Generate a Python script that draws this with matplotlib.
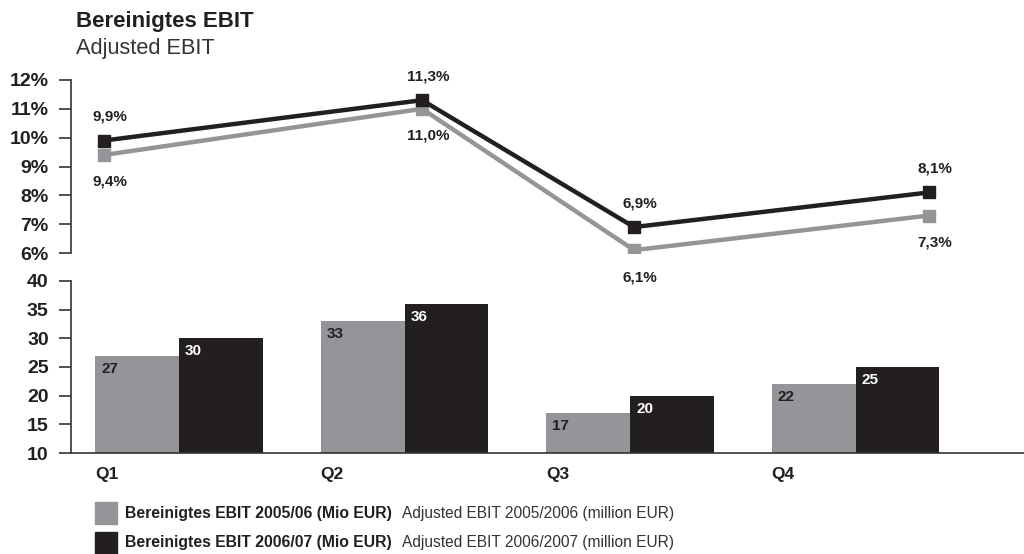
import matplotlib.pyplot as plt

plt.rcParams["font.family"] = ["Liberation Sans", "DejaVu Sans"]

# Data
QUARTERS = ["Q1", "Q2", "Q3", "Q4"]
EBIT_0506 = [27, 33, 17, 22]
EBIT_0607 = [30, 36, 20, 25]
MARGIN_0506 = [9.4, 11.0, 6.1, 7.3]
MARGIN_0607 = [9.9, 11.3, 6.9, 8.1]
MARGIN_TICKS = [6, 7, 8, 9, 10, 11, 12]
EBIT_TICKS = [10, 15, 20, 25, 30, 35, 40]

GRAY = "#939598"
BLACK = "#231f20"
TEXT = "#231f20"

# Layout: where the margin markers sit relative to the bar groups
LINE_X = [-0.333, 1.078, 2.018, 3.326]
BAR_W = 0.372
XLIM = (-0.479, 3.747)


def fmt_pct(v):
    return f"{v:.1f}".replace(".", ",") + "%"


fig = plt.figure(figsize=(10.24, 5.54), dpi=100)

# Bottom panel: EBIT bars
ax_bot = fig.add_axes([0.0693, 0.1823, 0.9307, 0.3105])
ax_bot.patch.set_visible(False)
xs = range(len(QUARTERS))
left_x = [i - BAR_W / 2 for i in xs]
right_x = [i + BAR_W / 2 for i in xs]
ax_bot.bar(left_x, EBIT_0506, width=BAR_W, color=GRAY, zorder=2)
ax_bot.bar(right_x, EBIT_0607, width=BAR_W, color=BLACK, zorder=2)
for x, v in zip(left_x, EBIT_0506):
    ax_bot.annotate(str(v), (x - BAR_W / 2, v), xytext=(6, -13),
                    textcoords="offset pixels", ha="left", va="center",
                    fontsize=11, fontweight="bold", color=TEXT)
for x, v in zip(right_x, EBIT_0607):
    ax_bot.annotate(str(v), (x - BAR_W / 2, v), xytext=(6, -13),
                    textcoords="offset pixels", ha="left", va="center",
                    fontsize=11, fontweight="bold", color="white")
ax_bot.set_xlim(*XLIM)
ax_bot.set_ylim(10, 40)
ax_bot.set_yticks(EBIT_TICKS)
ax_bot.set_xticks([i - BAR_W for i in xs])
ax_bot.set_xticklabels(QUARTERS, ha="left", fontsize=12.5, fontweight="bold", color=TEXT)
ax_bot.tick_params(axis="x", length=0, pad=10)
for side in ["top", "right"]:
    ax_bot.spines[side].set_visible(False)

# Top panel: margin lines
ax_top = fig.add_axes([0.0693, 0.5433, 0.9307, 0.3123], zorder=3)
ax_top.patch.set_visible(False)
ax_top.plot(LINE_X, MARGIN_0506, color=GRAY, linewidth=3.2, marker="s",
            markersize=9, zorder=2)
ax_top.plot(LINE_X, MARGIN_0607, color=BLACK, linewidth=3.2, marker="s",
            markersize=9, zorder=3)
for x, v in zip(LINE_X, MARGIN_0607):
    ax_top.annotate(fmt_pct(v), (x, v), xytext=(6, 24), textcoords="offset pixels",
                    ha="center", va="center", fontsize=11, fontweight="bold", color=TEXT)
for x, v in zip(LINE_X, MARGIN_0506):
    ax_top.annotate(fmt_pct(v), (x, v), xytext=(6, -27), textcoords="offset pixels",
                    ha="center", va="center", fontsize=11, fontweight="bold", color=TEXT)
ax_top.set_xlim(*XLIM)
ax_top.set_ylim(6, 12)
ax_top.set_yticks(MARGIN_TICKS)
ax_top.set_yticklabels([f"{t}%" for t in MARGIN_TICKS])
ax_top.set_xticks([])
for side in ["top", "right", "bottom"]:
    ax_top.spines[side].set_visible(False)

for ax in (ax_top, ax_bot):
    for side in ["left", "bottom"]:
        ax.spines[side].set_color("#333333")
        ax.spines[side].set_linewidth(1.2)
    ax.tick_params(axis="y", length=9, width=1.2, color="#333333", pad=7,
                   labelsize=14, labelcolor=TEXT)
    for lab in ax.get_yticklabels():
        lab.set_fontweight("bold")

# Titles
fig.text(0.074, 0.962, "Bereinigtes EBIT", fontsize=16, fontweight="bold",
         color=TEXT, va="center", ha="left")
fig.text(0.074, 0.913, "Adjusted EBIT", fontsize=15.7, color="#333333",
         va="center", ha="left")

# Legend
for y, col, bold, reg in [
    (0.074, GRAY, "Bereinigtes EBIT 2005/06 (Mio EUR)",
     "Adjusted EBIT 2005/2006 (million EUR)"),
    (0.020, BLACK, "Bereinigtes EBIT 2006/07 (Mio EUR)",
     "Adjusted EBIT 2006/2007 (million EUR)"),
]:
    fig.patches.append(plt.Rectangle((0.0928, y - 0.02), 0.0215, 0.04,
                                     transform=fig.transFigure, color=col))
    fig.text(0.122, y, bold, fontsize=11.3, fontweight="bold", color=TEXT,
             va="center", ha="left")
    fig.text(0.393, y, reg, fontsize=11.2, color="#333333", va="center", ha="left")

fig.savefig("out.png", dpi=100)
